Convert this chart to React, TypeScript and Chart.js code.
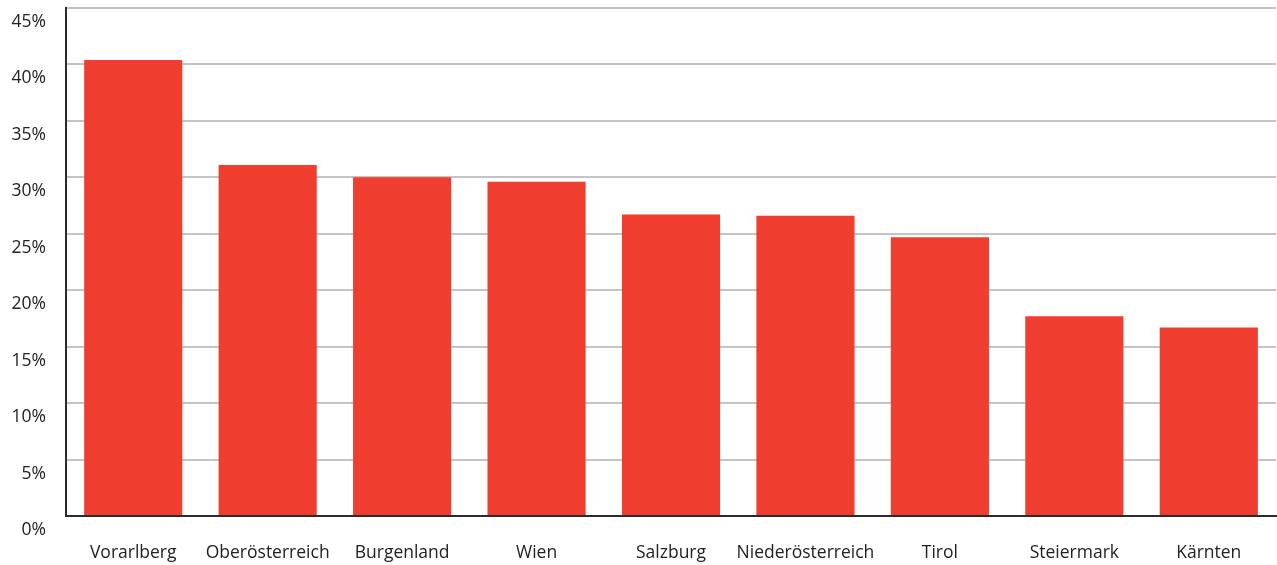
import React, { useEffect, useRef } from "react";
import { Chart, registerables } from "chart.js";

Chart.register(...registerables);

const categories = ["Vorarlberg", "Oberösterreich", "Burgenland", "Wien", "Salzburg", "Niederösterreich", "Tirol", "Steiermark", "Kärnten"];
const values = [40.4, 31.1, 30.0, 29.6, 26.7, 26.6, 24.7, 17.7, 16.7];
const yTicks = [0, 5, 10, 15, 20, 25, 30, 35, 40, 45];

export default function App() {
  const ref = useRef<HTMLCanvasElement>(null);
  useEffect(() => {
    if (!ref.current) return;
    const chart = new Chart(ref.current, {
      type: "bar",
      data: {
        labels: categories,
        datasets: [
          {
            data: values,
            backgroundColor: "#ef3e30",
            borderWidth: 0,
            barPercentage: 0.73,
            categoryPercentage: 1,
          },
        ],
      },
      options: {
        animation: false,
        responsive: false,
        layout: { padding: { top: 8, right: 1, left: 0, bottom: 0 } },
        plugins: { legend: { display: false }, tooltip: { enabled: false } },
        scales: {
          x: {
            grid: { display: false },
            border: { display: true, color: "#2b2b2b", width: 2 },
            afterFit: (scale: any) => {
              scale.height = 49;
              scale.paddingLeft = 0;
              scale.paddingRight = 0;
            },
            ticks: {
              color: "#222",
              font: { family: "Open Sans", size: 17.5 },
              padding: 19,
              maxRotation: 0,
              autoSkip: false,
            },
          },
          y: {
            min: 0,
            max: 45,
            afterBuildTicks: (scale: any) => {
              scale.ticks = yTicks.map((v) => ({ value: v }));
            },
            afterFit: (scale: any) => {
              scale.width = 66;
              scale.paddingTop = 0;
              scale.paddingBottom = 0;
            },
            grid: { color: "#c4c4c8", lineWidth: 2, drawTicks: false },
            border: { display: true, color: "#2b2b2b", width: 2 },
            ticks: {
              color: "#222",
              font: { family: "Open Sans", size: 17.5 },
              padding: 20,
              labelOffset: 14,
              callback: (v: any) => v + "%",
            },
          },
        },
      },
    });
    return () => chart.destroy();
  }, []);
  return (
    <div style={{ position: "fixed", left: 0, top: 0, width: 1277, height: 565, background: "#fff" }}>
      <canvas ref={ref} width={1277} height={565} style={{ display: "block" }} />
    </div>
  );
}
